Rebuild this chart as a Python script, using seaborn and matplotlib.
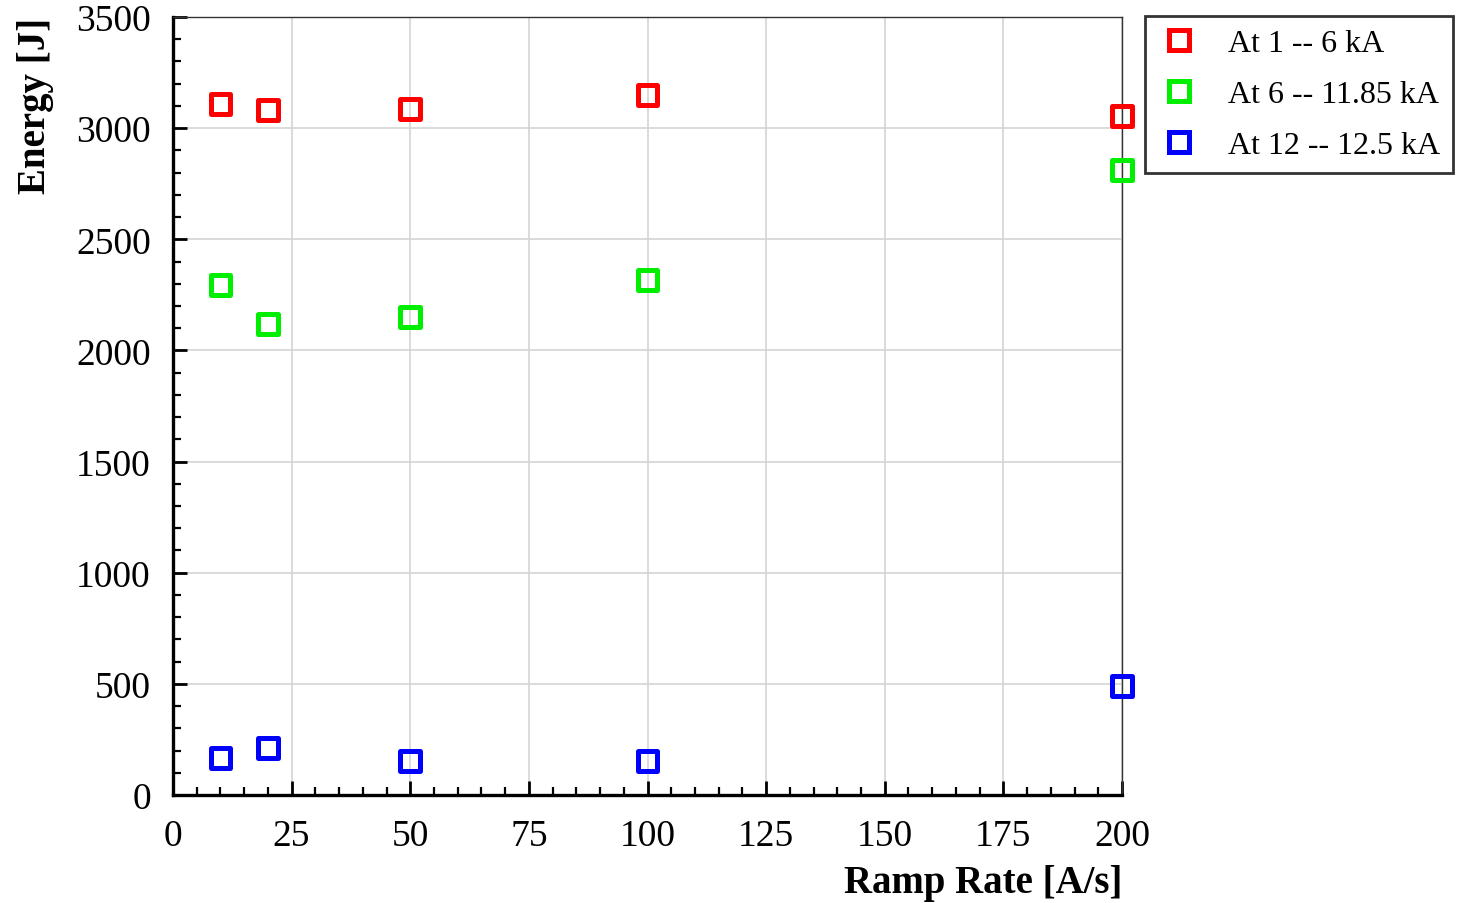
import matplotlib
matplotlib.use("Agg")
import matplotlib.pyplot as plt
from matplotlib.lines import Line2D
from matplotlib.ticker import MultipleLocator
import numpy as np
import pandas as pd
import seaborn as sns

# Measured energy vs ramp rate for three current windows
ramp_rates = [10, 20, 50, 100, 200]
energy_1_6 = [3108, 3082, 3086, 3149, 3055]
energy_6_1185 = [2294, 2119, 2150, 2317, 2812]
energy_12_125 = [166, 211, 153, 153, 490]

series_labels = ["At 1 -- 6 kA", "At 6 -- 11.85 kA", "At 12 -- 12.5 kA"]
series_colors = ["#ff0000", "#00ee00", "#0000ff"]

df = pd.DataFrame({
    "Ramp Rate": ramp_rates * 3,
    "Energy": energy_1_6 + energy_6_1185 + energy_12_125,
    "series": np.repeat(series_labels, len(ramp_rates)),
})

sns.set_theme(style="white")
plt.rcParams["font.family"] = ["Liberation Serif", "DejaVu Serif"]
plt.rcParams["text.color"] = "black"
plt.rcParams["axes.labelcolor"] = "black"

fig = plt.figure(figsize=(14.62, 9.04), dpi=100)
ax = fig.add_axes([173 / 1462, 1 - 796 / 904, (1122 - 173) / 1462, (796 - 18) / 904])

sns.scatterplot(
    data=df, x="Ramp Rate", y="Energy", hue="series",
    palette=dict(zip(series_labels, series_colors)),
    marker="s", s=205, linewidth=3.6, legend=False, ax=ax, zorder=5, clip_on=False,
)
coll = ax.collections[0]
coll.set_edgecolors(coll.get_facecolors())
coll.set_facecolors("none")

ax.set_xlim(0, 200)
ax.set_ylim(0, 3500)
ax.xaxis.set_major_locator(MultipleLocator(25))
ax.xaxis.set_minor_locator(MultipleLocator(5))
ax.yaxis.set_major_locator(MultipleLocator(500))
ax.yaxis.set_minor_locator(MultipleLocator(100))

ax.grid(True, which="major", color="#d4d4d4", linewidth=1.2, zorder=0)
ax.set_axisbelow(True)

ax.tick_params(which="major", direction="in", length=10, width=2, labelsize=27,
               colors="black", labelcolor="black")
ax.tick_params(axis="y", which="major", pad=16)
ax.tick_params(axis="x", which="major", pad=17)
ax.tick_params(which="minor", direction="in", length=5.5, width=1.6, colors="black")
ax.tick_params(axis="y", which="both", right=False, left=True)
ax.tick_params(axis="x", which="both", top=False, bottom=True)

for side in ["left", "bottom"]:
    ax.spines[side].set_color("black")
    ax.spines[side].set_linewidth(2.4)
for side in ["top", "right"]:
    ax.spines[side].set_color("#333333")
    ax.spines[side].set_linewidth(1.0)

ax.set_xlabel("Ramp Rate [A/s]", fontsize=28, fontweight="bold", loc="right", labelpad=8)
ax.set_ylabel("Energy [J]", fontsize=28, fontweight="bold", loc="top", labelpad=16)

handles = [
    Line2D([], [], linestyle="none", marker="s", markersize=14.3, markerfacecolor="none",
           markeredgecolor=c, markeredgewidth=3.6)
    for c in series_colors
]
leg = fig.legend(
    handles, series_labels, loc="upper left",
    bbox_to_anchor=(1145 / 1462, 1 - 17 / 904), bbox_transform=fig.transFigure,
    fontsize=23, frameon=True, fancybox=False, edgecolor="black",
    borderpad=0.4, handletextpad=0.85, labelspacing=0.68, handlelength=1.35,
    borderaxespad=0.0,
)
leg.get_frame().set_linewidth(2.0)
for t in leg.get_texts():
    t.set_color("black")

fig.savefig("out.png", dpi=100)
